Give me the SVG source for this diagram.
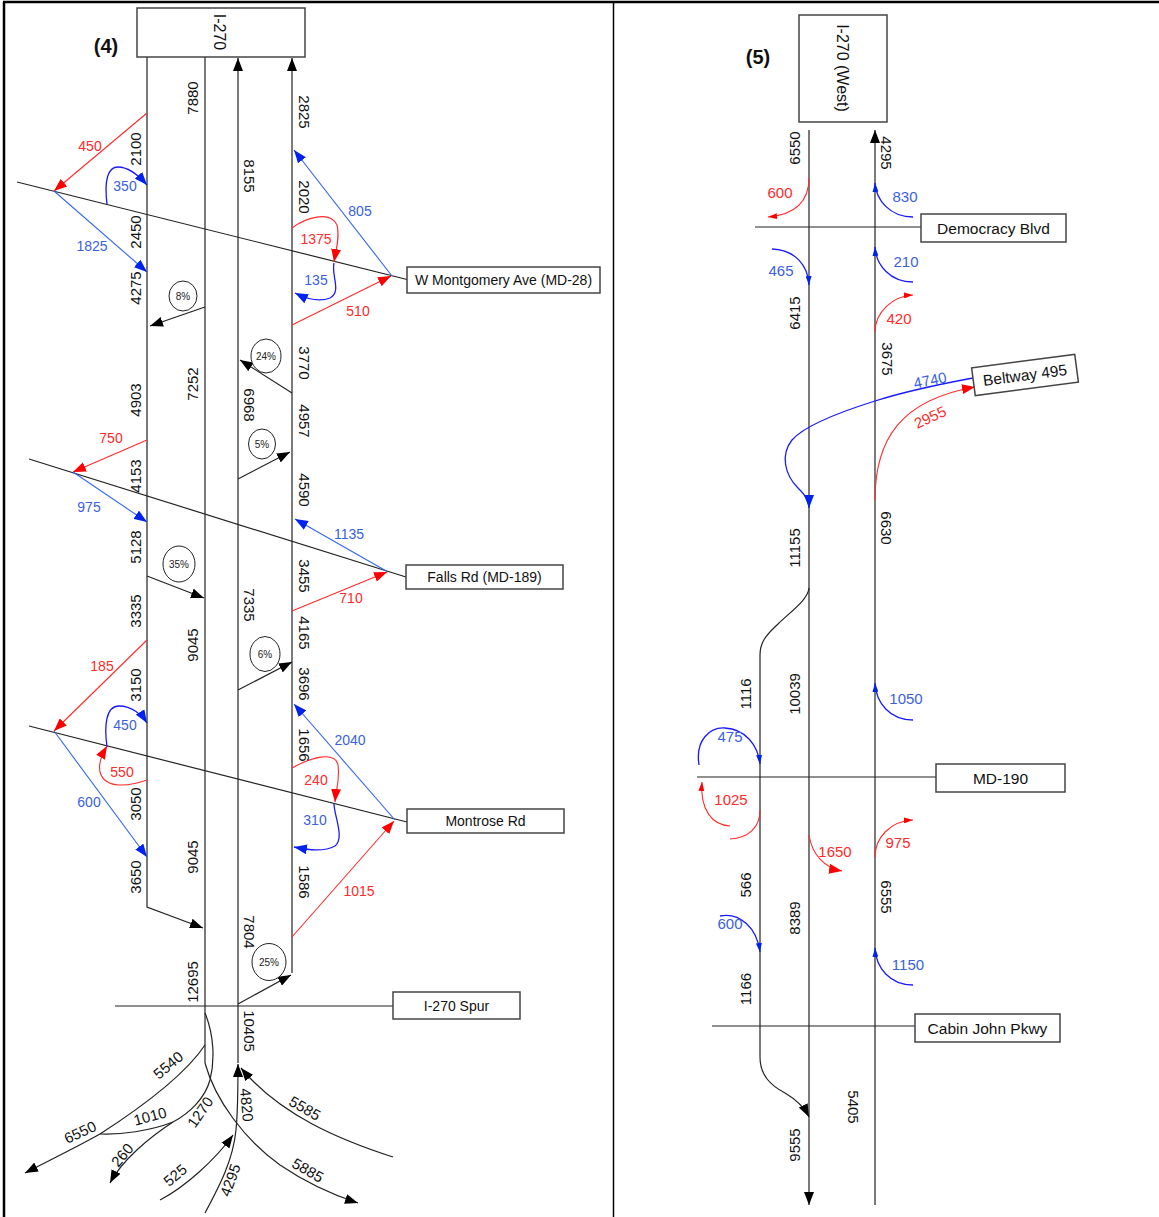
<svg xmlns="http://www.w3.org/2000/svg" width="1159" height="1217" viewBox="0 0 1159 1217">
<style>
text{font-family:"Liberation Sans",Arial,sans-serif}
.box{fill:#fff;stroke:#444;stroke-width:1.5}
.bt{font-size:14px;fill:#111;text-anchor:middle;dominant-baseline:central}
.bt2{font-size:15.5px;fill:#111;text-anchor:middle;dominant-baseline:central}
.ln{fill:none;stroke:#222;stroke-width:1.2}
.rd{fill:none;stroke:#ff2a2a;stroke-width:1.1}
.bl{fill:none;stroke:#3366ee;stroke-width:1.1}
.bc{fill:none;stroke:#1a1aff;stroke-width:1.3}
.n{font-size:15px;fill:#111;text-anchor:middle;dominant-baseline:central}
.r{font-size:14px;fill:#ff2a2a;text-anchor:middle;dominant-baseline:central}
.b{font-size:14px;fill:#3a5fe0;text-anchor:middle;dominant-baseline:central}
.r2{font-size:15px;fill:#ff2a2a;text-anchor:middle;dominant-baseline:central}
.b2{font-size:15px;fill:#3a5fe0;text-anchor:middle;dominant-baseline:central}
.pc{fill:#fff;stroke:#222;stroke-width:1}
.pt{font-size:10px;fill:#222;text-anchor:middle;dominant-baseline:central}
.hd{font-size:20px;font-weight:bold;fill:#111;text-anchor:middle;dominant-baseline:central}
.frame{stroke:#000;fill:none}
</style>
<defs>
<marker id="ak" markerWidth="13" markerHeight="10" refX="13" refY="5" orient="auto" markerUnits="userSpaceOnUse"><path d="M0,0 L13,5 L0,10z" fill="#000"/></marker>
<marker id="ar" markerWidth="13" markerHeight="10" refX="13" refY="5" orient="auto" markerUnits="userSpaceOnUse"><path d="M0,0 L13,5 L0,10z" fill="#ff0000"/></marker>
<marker id="ab" markerWidth="13" markerHeight="10" refX="13" refY="5" orient="auto" markerUnits="userSpaceOnUse"><path d="M0,0 L13,5 L0,10z" fill="#0022ee"/></marker>
<marker id="ars" markerWidth="9" markerHeight="6" refX="9" refY="3" orient="auto" markerUnits="userSpaceOnUse"><path d="M0,0 L9,3 L0,6z" fill="#ff0000"/></marker>
<marker id="abs" markerWidth="9" markerHeight="6" refX="9" refY="3" orient="auto" markerUnits="userSpaceOnUse"><path d="M0,0 L9,3 L0,6z" fill="#0022ee"/></marker>
</defs>

<g id="frame">
<line class="frame" x1="4" y1="2" x2="4" y2="1217" stroke-width="2.5"/>
<line class="frame" x1="3" y1="2" x2="1159" y2="2" stroke-width="2.5"/>
<line class="frame" x1="613.5" y1="2" x2="613.5" y2="1217" stroke-width="1.5"/>
</g>

<g id="headings">
<text class="hd" x="106" y="46">(4)</text>
<text class="hd" x="758" y="57">(5)</text>
</g>

<g id="connectors">
<!-- left panel roads -->
<line class="ln" x1="17" y1="182" x2="407" y2="279.5"/>
<line class="ln" x1="29" y1="459" x2="406" y2="577"/>
<line class="ln" x1="29" y1="726" x2="407" y2="822"/>
<line class="ln" x1="115" y1="1006" x2="393" y2="1006"/>
<!-- main lanes -->
<path class="ln" d="M147,57 L147,907 L203,928" marker-end="url(#ak)"/>
<line class="ln" x1="205" y1="57" x2="205" y2="1063"/>
<line class="ln" x1="238" y1="1063" x2="238" y2="58" marker-end="url(#ak)"/>
<line class="ln" x1="292" y1="973" x2="292" y2="58" marker-end="url(#ak)"/>
<!-- percent arrows -->
<line class="ln" x1="205" y1="307" x2="150" y2="326" marker-end="url(#ak)"/>
<line class="ln" x1="292" y1="393" x2="240" y2="360" marker-end="url(#ak)"/>
<line class="ln" x1="238" y1="479" x2="290" y2="452" marker-end="url(#ak)"/>
<line class="ln" x1="147" y1="576" x2="204" y2="598" marker-end="url(#ak)"/>
<line class="ln" x1="238" y1="690" x2="292" y2="662" marker-end="url(#ak)"/>
<line class="ln" x1="238" y1="1004" x2="291" y2="975" marker-end="url(#ak)"/>
<!-- W Montgomery ramps -->
<line class="rd" x1="147" y1="113" x2="54" y2="191" marker-end="url(#ar)"/>
<path class="bc" d="M107,204 C104,180 108,167 118,167 C130,167 140,177 147,185" marker-end="url(#ab)"/>
<line class="bl" x1="54" y1="191" x2="147" y2="272" marker-end="url(#ab)"/>
<line class="bl" x1="392" y1="276" x2="294" y2="150" marker-end="url(#ab)"/>
<path class="rd" d="M292,228 C305,218 330,210 337,225 C340,237 336,250 334,262" marker-end="url(#ar)"/>
<path class="bc" d="M334,263 C331,275 342,292 330,298 C318,303 305,298 295,293" marker-end="url(#ab)"/>
<line class="rd" x1="292" y1="325" x2="391" y2="276" marker-end="url(#ar)"/>
<!-- Falls Rd ramps -->
<line class="rd" x1="147" y1="440" x2="73" y2="472" marker-end="url(#ar)"/>
<line class="bl" x1="73" y1="472" x2="147" y2="522" marker-end="url(#ab)"/>
<line class="bl" x1="388" y1="572" x2="295" y2="519" marker-end="url(#ab)"/>
<line class="rd" x1="292" y1="611" x2="387" y2="572" marker-end="url(#ar)"/>
<!-- Montrose ramps -->
<line class="rd" x1="147" y1="640" x2="54" y2="731" marker-end="url(#ar)"/>
<path class="bc" d="M107,747 C104,725 106,706 119,706 C132,706 142,715 147,723" marker-end="url(#ab)"/>
<path class="rd" d="M147,780 C130,786 105,790 100,772 C98,762 103,753 107,746" marker-end="url(#ar)"/>
<line class="bl" x1="54" y1="731" x2="147" y2="857" marker-end="url(#ab)"/>
<line class="bl" x1="395" y1="820" x2="294" y2="704" marker-end="url(#ab)"/>
<path class="rd" d="M292,768 C310,758 335,750 338,765 C340,780 336,790 335,802" marker-end="url(#ar)"/>
<path class="bc" d="M334,804 C334,815 345,838 335,846 C322,853 305,849 294,847" marker-end="url(#ab)"/>
<line class="rd" x1="292" y1="937" x2="394" y2="821" marker-end="url(#ar)"/>
<!-- bottom interchange -->
<path class="ln" d="M205,1063 C215,1100 245,1140 280,1165 C305,1182 330,1194 358,1203" marker-end="url(#ak)"/>
<path class="ln" d="M205,1013 C214,1035 215,1060 210,1080 C205,1098 190,1113 173,1122"/>
<path class="ln" d="M205,1045 C185,1075 145,1105 100,1134"/>
<path class="ln" d="M100,1134 C75,1148 50,1160 25,1173" marker-end="url(#ak)"/>
<path class="ln" d="M100,1134 C120,1135 150,1131 173,1122"/>
<path class="ln" d="M173,1122 C150,1137 122,1160 110,1183" marker-end="url(#ak)"/>
<path class="ln" d="M160,1200 C185,1187 215,1160 233,1135" marker-end="url(#ak)"/>
<path class="ln" d="M205,1213 C220,1185 233,1160 236,1130 C238,1110 238,1090 238,1064" marker-end="url(#ak)"/>
<path class="ln" d="M393,1157 C340,1140 280,1115 241,1068" marker-end="url(#ak)"/>

<!-- right panel -->
<line class="ln" x1="755" y1="227" x2="921" y2="227"/>
<line class="ln" x1="697" y1="777" x2="936" y2="777"/>
<line class="ln" x1="712" y1="1026" x2="915" y2="1026"/>
<line class="ln" x1="809" y1="130" x2="809" y2="1205" marker-end="url(#ak)"/>
<line class="ln" x1="875" y1="1205" x2="875" y2="130" marker-end="url(#ak)"/>
<path class="ln" d="M809,588 C808,600 790,612 778,624 C765,636 760,643 760,655 L760,1057 C760,1075 770,1085 785,1093 C797,1100 804,1107 809,1117" marker-end="url(#ak)"/>
<path class="rd" d="M809,178 C809,205 790,215 768,217" marker-end="url(#ars)"/>
<path class="bc" d="M913,217 C890,217 876,200 875,183" marker-end="url(#abs)"/>
<path class="bc" d="M772,249 C795,250 808,265 809,285" marker-end="url(#abs)"/>
<path class="bc" d="M913,282 C890,282 876,265 875,247" marker-end="url(#abs)"/>
<path class="rd" d="M875,332 C875,312 893,296 913,295" marker-end="url(#ars)"/>
<path class="bc" d="M973,378 C930,386 900,393 875,401 C840,412 805,425 792,440 C780,455 785,475 798,488 C805,495 809,500 809,508" marker-end="url(#ab)"/>
<path class="rd" d="M875,500 C875,440 900,400 975,387" marker-end="url(#ar)"/>
<path class="bc" d="M913,720 C890,720 876,703 875,683" marker-end="url(#abs)"/>
<path class="bc" d="M699,765 C695,740 710,727 725,728 C745,729 758,745 760,764" marker-end="url(#abs)"/>
<path class="rd" d="M760,810 C760,828 748,838 730,839"/>
<path class="rd" d="M730,826 C712,825 700,810 702,782" marker-end="url(#ars)"/>
<path class="rd" d="M809,835 C812,855 825,868 842,871" marker-end="url(#ar)"/>
<path class="rd" d="M875,857 C875,838 890,821 913,820" marker-end="url(#ars)"/>
<path class="bc" d="M720,916 C740,912 757,928 760,952" marker-end="url(#abs)"/>
<path class="bc" d="M913,985 C890,985 876,968 875,948" marker-end="url(#abs)"/>
</g>

<g id="node-i270">
<rect class="box" x="137" y="8" width="168" height="49"/>
<text class="bt" style="font-size:16px" transform="rotate(90 219 32)" x="219" y="32">I-270</text>
</g>
<g id="node-montgomery">
<rect class="box" x="407" y="267" width="193" height="26"/>
<text class="bt" x="503.5" y="280">W Montgomery Ave (MD-28)</text>
</g>
<g id="node-falls">
<rect class="box" x="406" y="565" width="157" height="24"/>
<text class="bt" x="484.5" y="577">Falls Rd (MD-189)</text>
</g>
<g id="node-montrose">
<rect class="box" x="407" y="809" width="157" height="24"/>
<text class="bt" x="485.5" y="821">Montrose Rd</text>
</g>
<g id="node-spur">
<rect class="box" x="393" y="992" width="127" height="27"/>
<text class="bt" x="456.5" y="1005.5">I-270 Spur</text>
</g>
<g id="node-pct8"><ellipse class="pc" cx="183" cy="296" rx="14" ry="15"/><text class="pt" x="183" y="296">8%</text></g>
<g id="node-pct24"><ellipse class="pc" cx="266" cy="356" rx="15" ry="17"/><text class="pt" x="266" y="356">24%</text></g>
<g id="node-pct5"><ellipse class="pc" cx="262" cy="444" rx="13.5" ry="15"/><text class="pt" x="262" y="444">5%</text></g>
<g id="node-pct35"><ellipse class="pc" cx="179" cy="564" rx="16" ry="18"/><text class="pt" x="179" y="564">35%</text></g>
<g id="node-pct6"><ellipse class="pc" cx="265" cy="654" rx="15" ry="17.5"/><text class="pt" x="265" y="654">6%</text></g>
<g id="node-pct25"><ellipse class="pc" cx="269" cy="962" rx="17" ry="18.5"/><text class="pt" x="269" y="962">25%</text></g>

<g id="node-i270west">
<rect class="box" x="799" y="15" width="88" height="107"/>
<text class="bt2" style="font-size:16px" transform="rotate(90 842 68)" x="842" y="68">I-270 (West)</text>
</g>
<g id="node-democracy">
<rect class="box" x="921" y="214" width="145" height="28"/>
<text class="bt2" x="993.5" y="228">Democracy Blvd</text>
</g>
<g id="node-beltway">
<g transform="rotate(-7.5 1025 375)">
<rect class="box" x="973" y="361" width="104" height="28"/>
<text class="bt2" x="1025" y="375">Beltway 495</text>
</g>
</g>
<g id="node-md190">
<rect class="box" x="936" y="764" width="129" height="28"/>
<text class="bt2" x="1000.5" y="778">MD-190</text>
</g>
<g id="node-cabinjohn">
<rect class="box" x="915" y="1014" width="145" height="28"/>
<text class="bt2" x="987.5" y="1028">Cabin John Pkwy</text>
</g>

<g id="labels">
<!-- line A -->
<text class="n" transform="rotate(-90 135 149)" x="135" y="149">2100</text>
<text class="n" transform="rotate(-90 135 232)" x="135" y="232">2450</text>
<text class="n" transform="rotate(-90 135 288)" x="135" y="288">4275</text>
<text class="n" transform="rotate(-90 135 400)" x="135" y="400">4903</text>
<text class="n" transform="rotate(-90 135 476)" x="135" y="476">4153</text>
<text class="n" transform="rotate(-90 135 547)" x="135" y="547">5128</text>
<text class="n" transform="rotate(-90 135 611)" x="135" y="611">3335</text>
<text class="n" transform="rotate(-90 135 685)" x="135" y="685">3150</text>
<text class="n" transform="rotate(-90 135 804)" x="135" y="804">3050</text>
<text class="n" transform="rotate(-90 135 877)" x="135" y="877">3650</text>
<!-- line B -->
<text class="n" transform="rotate(-90 192 98)" x="192" y="98">7880</text>
<text class="n" transform="rotate(-90 192 384)" x="192" y="384">7252</text>
<text class="n" transform="rotate(-90 192 645)" x="192" y="645">9045</text>
<text class="n" transform="rotate(-90 192 857)" x="192" y="857">9045</text>
<text class="n" transform="rotate(-90 192 982)" x="192" y="982">12695</text>
<!-- line C -->
<text class="n" transform="rotate(90 249 176)" x="249" y="176">8155</text>
<text class="n" transform="rotate(90 249 405)" x="249" y="405">6968</text>
<text class="n" transform="rotate(90 249 605)" x="249" y="605">7335</text>
<text class="n" transform="rotate(90 249 932)" x="249" y="932">7804</text>
<text class="n" transform="rotate(90 249 1031)" x="249" y="1031">10405</text>
<text class="n" transform="rotate(85 247 1105)" x="247" y="1105">4820</text>
<!-- line D -->
<text class="n" transform="rotate(90 304 112)" x="304" y="112">2825</text>
<text class="n" transform="rotate(90 304 197)" x="304" y="197">2020</text>
<text class="n" transform="rotate(90 304 363)" x="304" y="363">3770</text>
<text class="n" transform="rotate(90 304 421)" x="304" y="421">4957</text>
<text class="n" transform="rotate(90 304 490)" x="304" y="490">4590</text>
<text class="n" transform="rotate(90 304 576)" x="304" y="576">3455</text>
<text class="n" transform="rotate(90 304 633)" x="304" y="633">4165</text>
<text class="n" transform="rotate(90 304 684)" x="304" y="684">3696</text>
<text class="n" transform="rotate(90 304 745)" x="304" y="745">1656</text>
<text class="n" transform="rotate(90 304 882)" x="304" y="882">1586</text>
<!-- bottom -->
<text class="n" transform="rotate(-40 168 1065)" x="168" y="1065">5540</text>
<text class="n" transform="rotate(-25 80 1132)" x="80" y="1132">6550</text>
<text class="n" transform="rotate(-15 150 1116)" x="150" y="1116">1010</text>
<text class="n" transform="rotate(-55 200 1112)" x="200" y="1112">1270</text>
<text class="n" transform="rotate(-50 122 1155)" x="122" y="1155">260</text>
<text class="n" transform="rotate(-40 175 1175)" x="175" y="1175">525</text>
<text class="n" transform="rotate(-70 230 1180)" x="230" y="1180">4295</text>
<text class="n" transform="rotate(30 305 1108)" x="305" y="1108">5585</text>
<text class="n" transform="rotate(30 308 1170)" x="308" y="1170">5885</text>
<!-- left colored -->
<text class="r" x="90" y="146">450</text>
<text class="b" x="125" y="186">350</text>
<text class="b" x="92" y="246">1825</text>
<text class="b" x="360" y="211">805</text>
<text class="r" x="316" y="239">1375</text>
<text class="b" x="316" y="280">135</text>
<text class="r" x="358" y="311">510</text>
<text class="r" x="111" y="438">750</text>
<text class="b" x="89" y="507">975</text>
<text class="b" x="349" y="534">1135</text>
<text class="r" x="351" y="598">710</text>
<text class="r" x="102" y="666">185</text>
<text class="b" x="125" y="725">450</text>
<text class="r" x="122" y="772">550</text>
<text class="b" x="89" y="802">600</text>
<text class="b" x="350" y="740">2040</text>
<text class="r" x="316" y="780">240</text>
<text class="b" x="315" y="820">310</text>
<text class="r" x="359" y="891">1015</text>
<!-- right black -->
<text class="n" transform="rotate(-90 794 148)" x="794" y="148">6550</text>
<text class="n" transform="rotate(90 886 153)" x="886" y="153">4295</text>
<text class="n" transform="rotate(-90 794 313)" x="794" y="313">6415</text>
<text class="n" transform="rotate(90 887 359)" x="887" y="359">3675</text>
<text class="n" transform="rotate(-90 794 548)" x="794" y="548">11155</text>
<text class="n" transform="rotate(90 886 528)" x="886" y="528">6630</text>
<text class="n" transform="rotate(-90 745 694)" x="745" y="694">1116</text>
<text class="n" transform="rotate(-90 794 694)" x="794" y="694">10039</text>
<text class="n" transform="rotate(-90 745 885)" x="745" y="885">566</text>
<text class="n" transform="rotate(-90 794 918)" x="794" y="918">8389</text>
<text class="n" transform="rotate(90 886 897)" x="886" y="897">6555</text>
<text class="n" transform="rotate(-90 745 989)" x="745" y="989">1166</text>
<text class="n" transform="rotate(-90 794 1145)" x="794" y="1145">9555</text>
<text class="n" transform="rotate(90 853 1107)" x="853" y="1107">5405</text>
<!-- right colored -->
<text class="r2" x="780" y="192">600</text>
<text class="b2" x="905" y="196">830</text>
<text class="b2" x="781" y="270">465</text>
<text class="b2" x="906" y="261">210</text>
<text class="r2" x="899" y="318">420</text>
<text class="b2" transform="rotate(-12 930 380)" x="930" y="380">4740</text>
<text class="r2" transform="rotate(-25 930 417)" x="930" y="417">2955</text>
<text class="b2" x="906" y="698">1050</text>
<text class="b2" x="730" y="736">475</text>
<text class="r2" x="731" y="799">1025</text>
<text class="r2" x="835" y="851">1650</text>
<text class="r2" x="898" y="842">975</text>
<text class="b2" x="730" y="923">600</text>
<text class="b2" x="908" y="964">1150</text>
</g>
</svg>
